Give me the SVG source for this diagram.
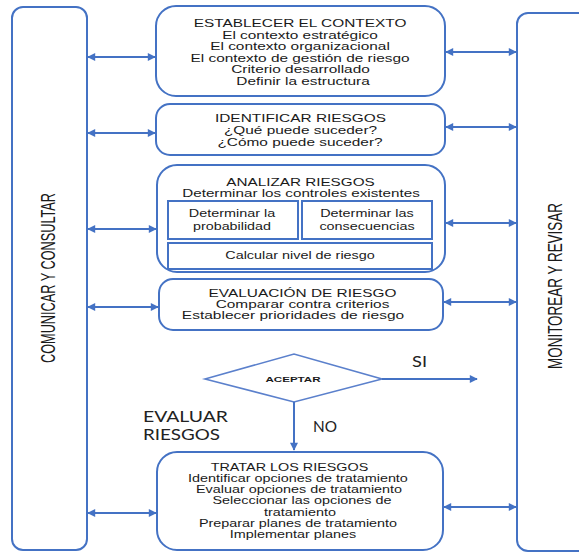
<svg xmlns="http://www.w3.org/2000/svg" width="579" height="552" viewBox="0 0 579 552">
<defs>
<style>
.box{fill:#fff;stroke:#4472c4;stroke-width:2}
.inner{fill:#fff;stroke:#4472c4;stroke-width:2}
.t{font-family:"Liberation Sans",Arial,sans-serif;font-size:11px;fill:#1a1a1a;text-anchor:middle}
.t2{font-family:"Liberation Sans",Arial,sans-serif;font-size:10px;fill:#1a1a1a;text-anchor:middle}
.side{font-family:"Liberation Sans Narrow","Liberation Sans",Arial,sans-serif;font-size:14px;fill:#1a1a1a;text-anchor:middle}
.big{font-family:Lato,"Open Sans",sans-serif;font-size:15px;fill:#222;text-anchor:start}
.conn line{stroke:#4472c4;stroke-width:2}
</style>
<marker id="ah" viewBox="0 0 10 10" refX="9" refY="5" markerWidth="10" markerHeight="8" markerUnits="userSpaceOnUse" orient="auto-start-reverse">
<path d="M0,0 L10,5 L0,10 z" fill="#4472c4"/>
</marker>
</defs>
<rect width="579" height="552" fill="#fff"/>

<g id="comunicar">
<rect class="box" x="12" y="7" width="75" height="543" rx="11"/>
<text class="side" transform="translate(55,278) scale(1.4,1) rotate(-90)" textLength="170" lengthAdjust="spacingAndGlyphs">COMUNICAR Y CONSULTAR</text>
</g>

<g id="monitorear">
<rect class="box" x="517" y="13" width="80" height="538" rx="11"/>
<text class="side" transform="translate(562,286) scale(1.4,1) rotate(-90)" textLength="166" lengthAdjust="spacingAndGlyphs">MONITOREAR Y REVISAR</text>
</g>

<g id="establecer">
<rect class="box" x="156" y="6" width="289" height="90" rx="20"/>
<text class="t" transform="translate(300,27) scale(1.4,1)">ESTABLECER EL CONTEXTO</text>
<text class="t" transform="translate(300,38.5) scale(1.4,1)">El contexto estratégico</text>
<text class="t" transform="translate(300,50) scale(1.4,1)">El contexto organizacional</text>
<text class="t" transform="translate(300,61.5) scale(1.4,1)">El contexto de gestión de riesgo</text>
<text class="t" transform="translate(300.5,73) scale(1.4,1)">Criterio desarrollado</text>
<text class="t" transform="translate(303,84.5) scale(1.4,1)">Definir la estructura</text>
</g>

<g id="identificar">
<rect class="box" x="156" y="104" width="289" height="51" rx="14"/>
<text class="t" transform="translate(300.5,121.5) scale(1.4,1)">IDENTIFICAR RIESGOS</text>
<text class="t" transform="translate(300.5,133.5) scale(1.4,1)">¿Qué puede suceder?</text>
<text class="t" transform="translate(300,146) scale(1.4,1)">¿Cómo puede suceder?</text>
</g>

<g id="analizar">
<rect class="box" x="157" y="165" width="288" height="107" rx="20"/>
<text class="t" transform="translate(300.5,186) scale(1.39,1)">ANALIZAR RIESGOS</text>
<text class="t" transform="translate(301,197) scale(1.385,1)">Determinar los controles existentes</text>
<rect class="inner" x="168" y="201" width="130" height="38"/>
<rect class="inner" x="302" y="201" width="130" height="38"/>
<rect class="inner" x="168" y="243" width="264" height="26"/>
<text class="t" transform="translate(232,217) scale(1.31,1)">Determinar la</text>
<text class="t" transform="translate(232,229.5) scale(1.3,1)">probabilidad</text>
<text class="t" transform="translate(367,217) scale(1.31,1)">Determinar las</text>
<text class="t" transform="translate(367,229.5) scale(1.31,1)">consecuencias</text>
<text class="t" transform="translate(300,258.5) scale(1.31,1)">Calcular nivel de riesgo</text>
</g>

<g id="evaluacion">
<rect class="box" x="159" y="279" width="284" height="51" rx="14"/>
<text class="t" transform="translate(302.5,296.5) scale(1.4,1)">EVALUACIÓN DE RIESGO</text>
<text class="t" transform="translate(302.5,308) scale(1.4,1)">Comparar contra criterios</text>
<text class="t" transform="translate(293,319) scale(1.41,1)">Establecer prioridades de riesgo</text>
</g>

<g id="aceptar">
<polygon points="205,379 294,354 382,379 294,402" fill="#fff" stroke="#5b80cc" stroke-width="1.6"/>
<text transform="translate(293,381.8) scale(1.45,1)" font-family="Liberation Sans,Arial,sans-serif" font-size="8" font-weight="bold" fill="#1a1a1a" text-anchor="middle">ACEPTAR</text>
</g>

<g id="tratar">
<rect class="box" x="157" y="452" width="286" height="98" rx="20"/>
<text class="t2" transform="translate(289.5,470.5) scale(1.44,1)">TRATAR LOS RIESGOS</text>
<text class="t2" transform="translate(298,481.75) scale(1.44,1)">Identificar opciones de tratamiento</text>
<text class="t2" transform="translate(299,493) scale(1.44,1)">Evaluar opciones de tratamiento</text>
<text class="t2" transform="translate(302,504.25) scale(1.44,1)">Seleccionar las opciones de</text>
<text class="t2" transform="translate(300,515.5) scale(1.44,1)">tratamiento</text>
<text class="t2" transform="translate(298,526.75) scale(1.44,1)">Preparar planes de tratamiento</text>
<text class="t2" transform="translate(293,538) scale(1.44,1)">Implementar planes</text>
</g>

<g id="labels">
<text class="big" x="412" y="367" textLength="15" lengthAdjust="spacingAndGlyphs">SI</text>
<text class="big" x="313" y="432" textLength="24" lengthAdjust="spacingAndGlyphs">NO</text>
<text class="big" x="143" y="422" textLength="85" lengthAdjust="spacingAndGlyphs">EVALUAR</text>
<text class="big" x="143" y="440" textLength="77" lengthAdjust="spacingAndGlyphs">RIESGOS</text>
</g>

<g id="connectors" class="conn">
<line x1="88" y1="57" x2="155" y2="57" marker-start="url(#ah)" marker-end="url(#ah)"/>
<line x1="88" y1="133" x2="155" y2="133" marker-start="url(#ah)" marker-end="url(#ah)"/>
<line x1="88" y1="229" x2="156" y2="229" marker-start="url(#ah)" marker-end="url(#ah)"/>
<line x1="88" y1="307" x2="158" y2="307" marker-start="url(#ah)" marker-end="url(#ah)"/>
<line x1="88" y1="513" x2="156" y2="513" marker-start="url(#ah)" marker-end="url(#ah)"/>
<line x1="446" y1="52" x2="516" y2="52" marker-start="url(#ah)" marker-end="url(#ah)"/>
<line x1="446" y1="127" x2="516" y2="127" marker-start="url(#ah)" marker-end="url(#ah)"/>
<line x1="446" y1="223" x2="516" y2="223" marker-start="url(#ah)" marker-end="url(#ah)"/>
<line x1="444" y1="302" x2="516" y2="302" marker-start="url(#ah)" marker-end="url(#ah)"/>
<line x1="444" y1="507" x2="516" y2="507" marker-start="url(#ah)" marker-end="url(#ah)"/>
<line x1="382" y1="379" x2="477" y2="379" marker-end="url(#ah)"/>
<line x1="294" y1="402" x2="294" y2="450" marker-end="url(#ah)"/>
</g>
</svg>
